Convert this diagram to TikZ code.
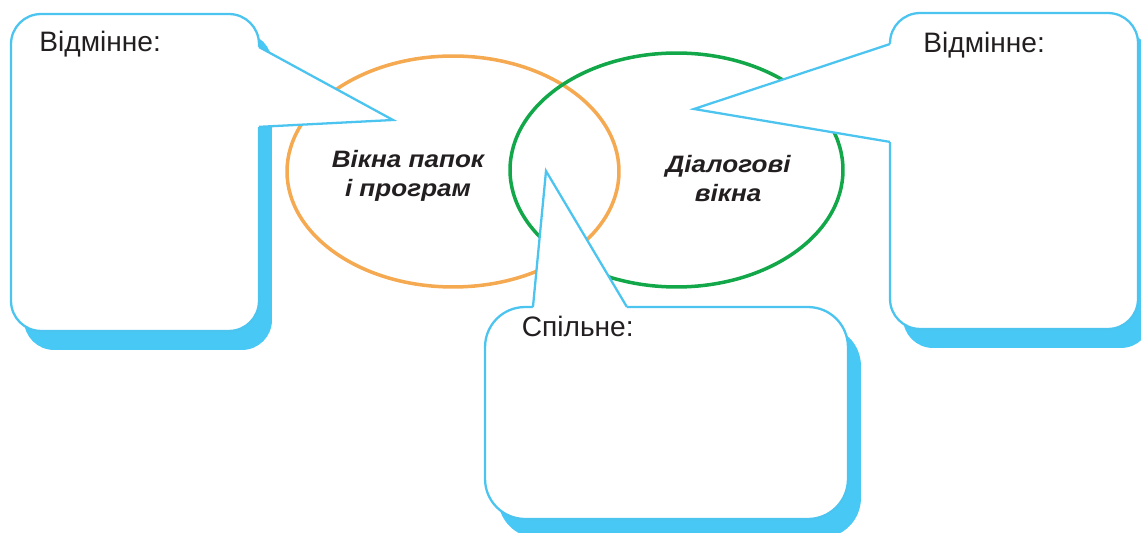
\documentclass[tikz,border=0pt]{standalone}
\usepackage{fontspec}
\setmainfont{Liberation Sans}
\newfontfamily\widefont[FakeStretch=1.1]{Liberation Sans}
\usetikzlibrary{positioning, calc, shapes.geometric, shadows}
\definecolor{lineblue}{HTML}{4CC4F0}
\definecolor{shadeblue}{HTML}{48C8F4}
\definecolor{ovalorange}{HTML}{F5A951}
\definecolor{ovalgreen}{HTML}{12A84A}
\definecolor{inkgray}{HTML}{231F20}

\begin{document}
\begin{tikzpicture}[x=0.02cm, y=-0.02cm,
    callbox/.style={draw=lineblue, line width=1.3pt, fill=white, inner sep=0pt, outer sep=0pt,
        drop shadow={shadow xshift=0.26cm, shadow yshift=-0.38cm, fill=shadeblue, opacity=1}},
    oval/.style={ellipse, line width=2pt, inner sep=0pt},
    note/.style={font=\fontsize{16}{19}\selectfont, text=inkgray, inner sep=0pt, anchor=base west},
    title/.style={font=\widefont\fontsize{13.5}{17}\selectfont\bfseries\itshape, text=inkgray,
        align=center, inner sep=0pt, anchor=base},
    tail/.style={draw=lineblue, line width=1.3pt}]
    \useasboundingbox (0,0) rectangle (1141,533);
    \node[oval, draw=ovalorange, minimum width=6.64cm, minimum height=4.62cm] (folders) at (453,171.5) {};
    \node[oval, draw=ovalgreen, minimum width=6.66cm, minimum height=4.68cm] (dialogs) at (676.5,170) {};
    \node[callbox, rounded corners=0.6cm, minimum width=4.96cm, minimum height=6.34cm] (leftbox) at (135,172.5) {};
    \node[callbox, rounded corners=0.6cm, minimum width=4.96cm, minimum height=6.32cm] (rightbox) at (1014,171) {};
    \node[callbox, rounded corners=0.8cm, minimum width=7.26cm, minimum height=4.24cm] (midbox) at (666.5,413) {};
    \coordinate (foldtip) at (393,120);
    \coordinate (dialtip) at (694,109);
    \coordinate (commontip) at (546,171);
    \path ($(leftbox.north east)!0.104!(leftbox.south east)$) coordinate (lefta)
          ($(leftbox.north east)!0.356!(leftbox.south east)$) coordinate (leftb)
          ($(rightbox.north west)!0.098!(rightbox.south west)$) coordinate (righta)
          ($(rightbox.north west)!0.408!(rightbox.south west)$) coordinate (rightb)
          ($(midbox.north west)!0.132!(midbox.north east)$) coordinate (mida)
          ($(midbox.north west)!0.391!(midbox.north east)$) coordinate (midb);
    \fill[white] ($(lefta)+(-3,0)$) -- (lefta) -- (foldtip) -- (leftb) -- ($(leftb)+(-3,0)$) -- cycle;
    \draw[tail] (lefta) -- (foldtip) -- (leftb);
    \fill[white] ($(righta)+(3,0)$) -- (righta) -- (dialtip) -- (rightb) -- ($(rightb)+(3,0)$) -- cycle;
    \draw[tail] (righta) -- (dialtip) -- (rightb);
    \fill[white] ($(mida)+(0,3)$) -- (mida) -- (commontip) -- (midb) -- ($(midb)+(0,3)$) -- cycle;
    \draw[tail] (mida) -- (commontip) -- (midb);
    \node[note] (leftnote) at ($(leftbox.north west)+(28,37)$) {Відмінне:};
    \node[note] (rightnote) at ($(rightbox.north west)+(33,39)$) {Відмінне:};
    \node[note] (midnote) at ($(midbox.north west)+(36.5,29)$) {Спільне:};
    \node[title] (foldtext) at (408,197) {Вікна папок\\і програм};
    \node[title] (dialtext) at (728,202) {Діалогові\\вікна};
\end{tikzpicture}
\end{document}
